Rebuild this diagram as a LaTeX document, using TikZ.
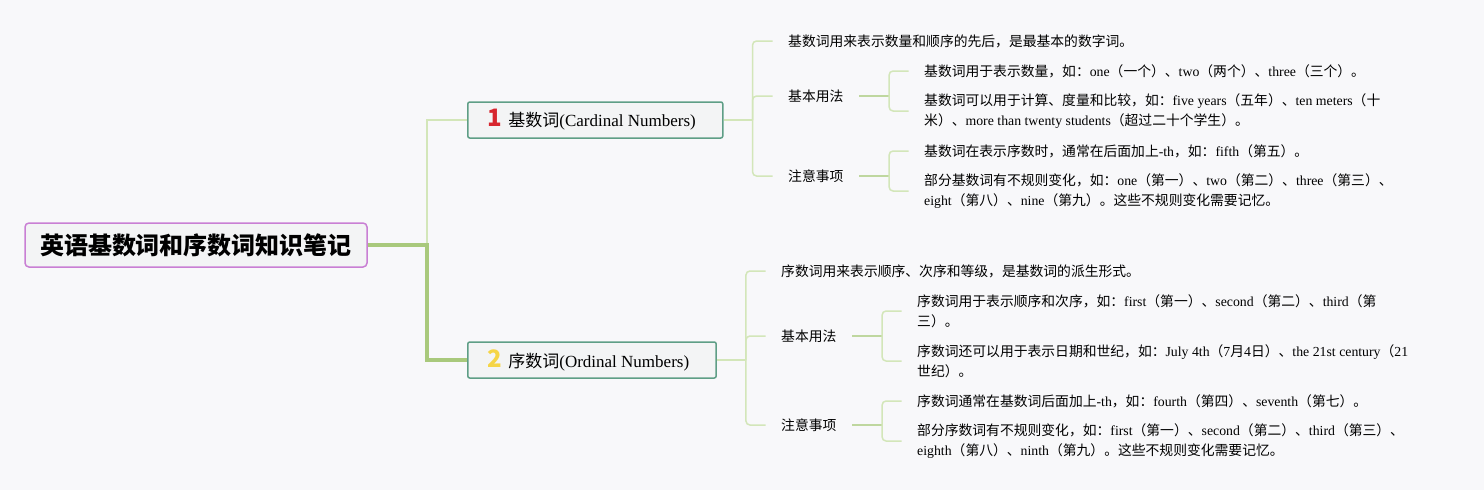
\documentclass[tikz,border=0pt]{standalone}
\usepackage{fontspec}
\setmainfont{Noto Sans CJK SC}
\newfontfamily\lat{Liberation Serif}
\newcommand\en[1]{{\lat #1}}
\definecolor{bgcol}{HTML}{F8F8FA}
\definecolor{rootline}{HTML}{C97FD4}
\definecolor{topicline}{HTML}{5E9E86}
\definecolor{boxfill}{HTML}{F3F4F5}
\definecolor{thickgreen}{HTML}{A9C97C}
\definecolor{thingreen}{HTML}{D3E6B9}
\definecolor{stubgreen}{HTML}{BFD79F}
\definecolor{numred}{HTML}{D7262F}
\definecolor{numyellow}{HTML}{F5D547}
\usetikzlibrary{positioning}
\tikzset{
  rootbox/.style={draw=rootline, fill=boxfill, line width=1.5pt, rounded corners=4pt,
    minimum width=342, minimum height=44, font=\bfseries\fontsize{24}{26}\selectfont},
  topicbox/.style={draw=topicline, fill=boxfill, line width=1.5pt, rounded corners=2pt,
    minimum height=36, inner xsep=20, anchor=west, font=\fontsize{17}{20}\selectfont},
  leaf/.style={anchor=west, inner xsep=15.5, inner ysep=2, align=left,
    font=\fontsize{13.8}{20}\selectfont},
  thickbranch/.style={draw=thickgreen, line width=4pt},
  branch/.style={draw=thingreen, line width=1.5pt, rounded corners=4pt},
  stub/.style={draw=stubgreen, line width=2pt},
}
\newcommand\num[2]{{\color{#1}\bfseries\fontsize{24}{24}\selectfont #2}\hspace{6pt}}
\begin{document}
\begin{tikzpicture}[x=1pt,y=-1pt]
\fill[bgcol] (0,0) rectangle (1484,490);
\useasboundingbox (0,0) rectangle (1484,490);
% root and main topics
\node[rootbox] (root) at (196,245) {英语基数词和序数词知识笔记};
\node[topicbox] (card) at (467,120) {\num{numred}{1}基数词\en{(Cardinal Numbers)}\kern7pt};
\node[topicbox] (ord) at (467,360) {\num{numyellow}{2}序数词\en{(Ordinal Numbers)}\kern7pt};
\coordinate (j0) at (427,245);
\draw[branch, rounded corners=0pt] (j0) |- (card.west);
\draw[thickbranch] (root.east) -- (j0) |- (ord.west);

% cardinal numbers
\node[leaf] (c0) at (772.5,41) {基数词用来表示数量和顺序的先后，是最基本的数字词。};
\node[leaf] (c1) at (772.5,96) {基本用法};
\node[leaf] (c11) at (908.5,71) {基数词用于表示数量，如：\en{one}（一个）、\en{two}（两个）、\en{three}（三个）。};
\node[leaf] (c12) at (908.5,111) {基数词可以用于计算、度量和比较，如：\en{five years}（五年）、\en{ten meters}（十\\米）、\en{more than twenty students}（超过二十个学生）。};
\node[leaf] (c2) at (772.5,176) {注意事项};
\node[leaf] (c21) at (908.5,151) {基数词在表示序数时，通常在后面加上\en{-th}，如：\en{fifth}（第五）。};
\node[leaf] (c22) at (908.5,191) {部分基数词有不规则变化，如：\en{one}（第一）、\en{two}（第二）、\en{three}（第三）、\\\en{eight}（第八）、\en{nine}（第九）。这些不规则变化需要记忆。};
\coordinate (j1) at ([xshift=29]card.east);
\draw[branch, rounded corners=0pt] (card.east) -- (j1);
\foreach \t in {c0,c1,c2} \draw[branch] (j1) |- (\t.west);
\coordinate (jc1) at ([xshift=30]c1.east);
\coordinate (jc2) at ([xshift=30]c2.east);
\draw[stub] (c1.east) -- (jc1);
\draw[stub] (c2.east) -- (jc2);
\foreach \t in {c11,c12} \draw[branch] (jc1) |- (\t.west);
\foreach \t in {c21,c22} \draw[branch] (jc2) |- (\t.west);

% ordinal numbers
\node[leaf] (o0) at (765.5,271) {序数词用来表示顺序、次序和等级，是基数词的派生形式。};
\node[leaf] (o1) at (765.5,336) {基本用法};
\node[leaf] (o11) at (901.5,311) {序数词用于表示顺序和次序，如：\en{first}（第一）、\en{second}（第二）、\en{third}（第\\三）。};
\node[leaf] (o12) at (901.5,361) {序数词还可以用于表示日期和世纪，如：\en{July 4th}（\en{7}月\en{4}日）、\en{the 21st century}（\en{21}\\世纪）。};
\node[leaf] (o2) at (765.5,425) {注意事项};
\node[leaf] (o21) at (901.5,401) {序数词通常在基数词后面加上\en{-th}，如：\en{fourth}（第四）、\en{seventh}（第七）。};
\node[leaf] (o22) at (901.5,441) {部分序数词有不规则变化，如：\en{first}（第一）、\en{second}（第二）、\en{third}（第三）、\\\en{eighth}（第八）、\en{ninth}（第九）。这些不规则变化需要记忆。};
\coordinate (j2) at ([xshift=29]ord.east);
\draw[branch, rounded corners=0pt] (ord.east) -- (j2);
\foreach \t in {o0,o1,o2} \draw[branch] (j2) |- (\t.west);
\coordinate (jo1) at ([xshift=30]o1.east);
\coordinate (jo2) at ([xshift=30]o2.east);
\draw[stub] (o1.east) -- (jo1);
\draw[stub] (o2.east) -- (jo2);
\foreach \t in {o11,o12} \draw[branch] (jo1) |- (\t.west);
\foreach \t in {o21,o22} \draw[branch] (jo2) |- (\t.west);
\end{tikzpicture}
\end{document}
